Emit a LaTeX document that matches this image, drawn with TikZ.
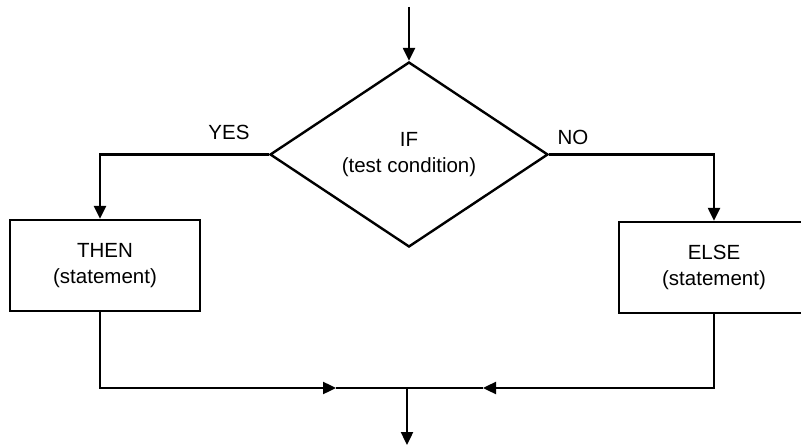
\documentclass[tikz,border=0pt]{standalone}
\usepackage{fontspec}
\setmainfont{Liberation Sans}
\usetikzlibrary{arrows.meta,shapes.geometric}
\newcommand\lblfont{\fontsize{20.5bp}{26bp}\selectfont}
\begin{document}
\begin{tikzpicture}[x=1bp,y=-1bp, line width=2.4bp,
  arr/.style={-{Triangle[length=13bp,width=12bp]}},
  stmtbox/.style={draw, rectangle, minimum width=190bp, minimum height=91bp, inner sep=0pt, align=center, font=\lblfont},
  decision/.style={draw, diamond, minimum width=278bp, minimum height=185bp, inner sep=0pt, align=center, font=\lblfont},
  lbl/.style={inner sep=0pt, font=\lblfont}]
\useasboundingbox (0,0) rectangle (801,446);
\node[decision] (ifd) at (409,154.5) {IF\\(test condition)};
\node[stmtbox] (thenbox) at (105,265.5) {THEN\\(statement)};
\node[stmtbox] (elsebox) at (714,267.5) {ELSE\\(statement)};
\node[lbl] (yes) at (229,132) {YES};
\node[lbl] (no) at (573,137) {NO};
\coordinate (top) at (409,7);
\coordinate (jl) at (336,388);
\coordinate (jr) at (483,388);
\coordinate (jn) at (407,388);
\coordinate (out) at (407,445);
\draw[arr] (top) -- (ifd.north);
\draw[arr] (ifd.west) -| ([xshift=-5bp]thenbox.north);
\draw[arr] (ifd.east) -| (elsebox.north);
\draw[arr] ([xshift=-5bp]thenbox.south) |- (jl);
\draw (jl) -- (jn);
\draw[arr] (elsebox.south) |- (jr);
\draw (jr) -- (jn);
\draw[arr] (jn) -- (out);
\end{tikzpicture}
\end{document}
